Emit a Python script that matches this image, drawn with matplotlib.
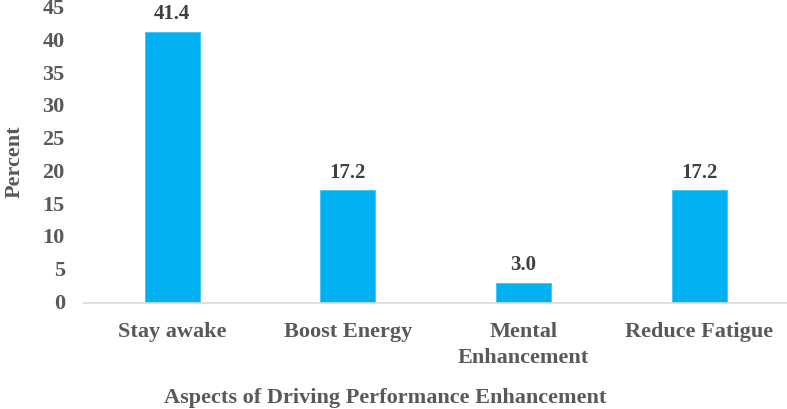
import matplotlib
matplotlib.use("Agg")
import matplotlib.pyplot as plt

# data
categories = ["Stay awake", "Boost Energy", "Mental\nEnhancement", "Reduce Fatigue"]
percent = [41.4, 17.2, 3.0, 17.2]
yticks = [0, 5, 10, 15, 20, 25, 30, 35, 40, 45]

plt.rcParams['font.family'] = ['Liberation Serif', 'DejaVu Serif']
plt.rcParams['font.weight'] = 'bold'

fig = plt.figure(figsize=(7.87, 4.10), dpi=100)
ax = fig.add_axes([0.107, 0.2595, 0.893, 0.7175])

x = range(len(categories))
bars = ax.bar(x, percent, width=0.3125, color="#00B0F0", edgecolor="#3FC3F3", linewidth=0.6, zorder=2)

for b, v in zip(bars, percent):
    ax.text(b.get_x() + b.get_width() / 2, v + 1.3, "%.1f" % v, ha="center", va="bottom",
            fontsize=15, fontweight="bold", color="#404040")

ax.set_xlim(-0.5, 3.5)
ax.set_ylim(0, 45)
ax.set_yticks(yticks)
ax.set_xticks(list(x))
ax.set_xticklabels(categories, fontsize=16, fontweight="bold", color="#595959", linespacing=1.4)
ax.tick_params(axis="y", labelsize=16, labelcolor="#595959", length=0, pad=14)
ax.tick_params(axis="x", length=0, pad=13)
for lab in ax.get_yticklabels():
    lab.set_fontweight("bold")
    lab.set_verticalalignment("center")

for s in ["top", "right", "left"]:
    ax.spines[s].set_visible(False)
ax.spines["bottom"].set_color("#D9D9D9")
ax.spines["bottom"].set_linewidth(1.2)

fig.text(0.018, 0.605, "Percent", rotation=90, ha="center", va="center",
         fontsize=16, fontweight="bold", color="#595959")
fig.text(0.49, 0.03, "Aspects of Driving Performance Enhancement", ha="center", va="center",
         fontsize=16, fontweight="bold", color="#595959")

fig.savefig("out.png", dpi=100)
